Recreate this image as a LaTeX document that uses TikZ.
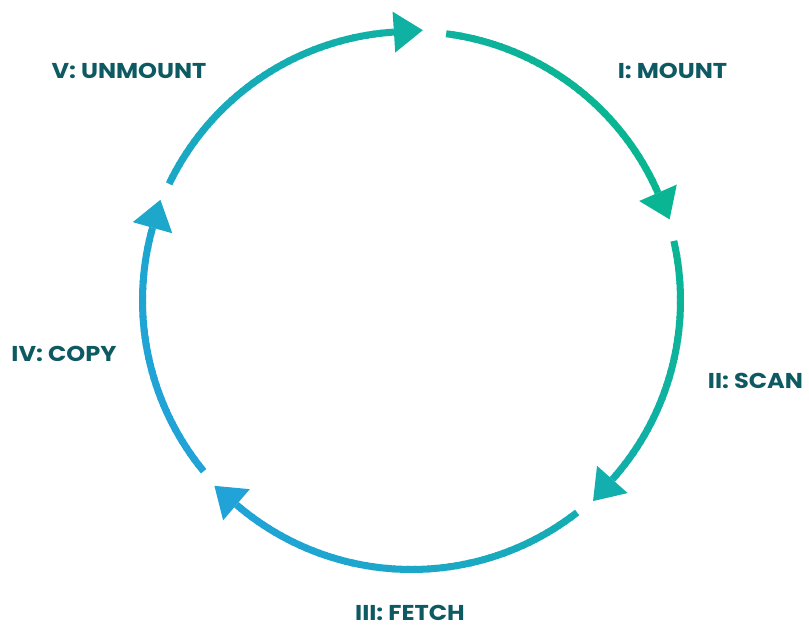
\documentclass[tikz,border=0pt]{standalone}
\usepackage{fontspec}
\newfontfamily\labfont{Poppins}[FakeStretch=1.12]
\definecolor{cgreen}{RGB}{10,181,146}
\definecolor{cblue}{RGB}{33,163,216}
\definecolor{labcol}{RGB}{14,90,99}
\newcommand\gradarc[2]{%
  \pgfmathsetmacro\myN{int(ceil((#1-(#2))/1.5))}%
  \pgfmathsetmacro\myD{(#1-(#2))/\myN}%
  \foreach \i in {1,...,\myN}{%
    \pgfmathsetmacro\myA{#1-(\i-1)*\myD}%
    \pgfmathsetmacro\myE{max(#1-\i*\myD-0.4,#2)}%
    \pgfmathsetmacro\myP{50+50*cos((\myA+\myE)/2-33)}%
    \draw[ring, draw=cgreen!\myP!cblue] (\myA:269) arc[start angle=\myA, end angle=\myE, radius=269];
  }%
  \pgfmathsetmacro\myP{50+50*cos(#2-3-33)}%
  \fill[cgreen!\myP!cblue] (#2:289.5) -- (#2:248.5) -- (#2-6.153:270.56) -- cycle;
}
\tikzset{
  ring/.style={line width=7pt, line cap=butt},
  lab/.style={font=\labfont\bfseries\fontsize{21.5}{24}\selectfont, text=labcol, inner sep=0pt, anchor=base}
}
\begin{document}
\begin{tikzpicture}[x=1pt,y=1pt]
\useasboundingbox (0,0) rectangle (809,626);
\begin{scope}[shift={(411.5,325.5)}]
  \gradarc{82.6}{23.6}
  \gradarc{12.8}{-41.7}
  \gradarc{-52}{-130.6}
  \gradarc{-140.6}{-195.7}
  \gradarc{154.3}{93.75}
\end{scope}
\node[lab] (l1) at (672.5,547) {I: MOUNT};
\node[lab] (l2) at (755.5,237) {II: SCAN};
\node[lab] (l3) at (410,5) {III: FETCH};
\node[lab] (l4) at (64,264) {IV: COPY};
\node[lab] (l5) at (129,547) {V: UNMOUNT};
\end{tikzpicture}
\end{document}
